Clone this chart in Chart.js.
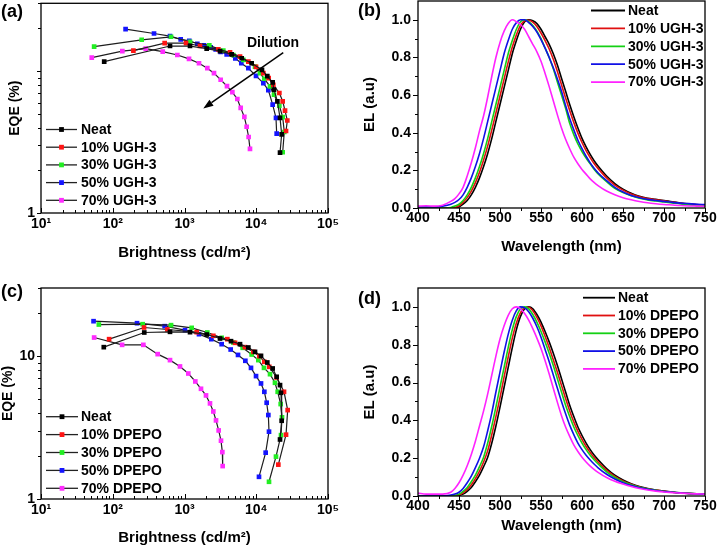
<!DOCTYPE html>
<html><head><meta charset="utf-8">
<script src="https://cdn.jsdelivr.net/npm/chart.js@4/dist/chart.umd.min.js"></script>
<style>
html,body{margin:0;padding:0;background:#fff;}
#wrap{position:relative;width:717px;height:549px;overflow:hidden;background:#fff;}
canvas{position:absolute;}
.lab{position:absolute;font:bold 18px 'Liberation Sans',Arial,sans-serif;color:#000;line-height:20px;}
</style></head><body>
<div id="wrap">
<canvas id="ca" width="358" height="270" style="left:0;top:0"></canvas>
<canvas id="cb" width="359" height="270" style="left:358px;top:0"></canvas>
<canvas id="cc" width="358" height="279" style="left:0;top:270px"></canvas>
<canvas id="cd" width="359" height="279" style="left:358px;top:270px"></canvas>
<div class="lab" style="left:1px;top:1px">(a)</div>
<div class="lab" style="left:358px;top:0px">(b)</div>
<div class="lab" style="left:1px;top:281px">(c)</div>
<div class="lab" style="left:358px;top:288px">(d)</div>
</div>
<script>
// ---------- DATA ----------
const seriesA = ['Neat', '10% UGH-3', '30% UGH-3', '50% UGH-3', '70% UGH-3'];
const seriesC = ['Neat', '10% DPEPO', '30% DPEPO', '50% DPEPO', '70% DPEPO'];
const xTickDecades = [1, 2, 3, 4, 5];

// Panel (a): brightness (cd/m2) and EQE (%)
const aNeatB = [76, 628, 1194, 2037, 3126, 4540, 6270, 8630, 12020, 14270, 16930, 17670, 19700, 21450, 22600, 21450];
const aNeatE = [11.65, 15.0, 15.0, 14.4, 13.8, 13.1, 12.3, 11.34, 10.2, 9.2, 8.31, 7.39, 6.12, 4.68, 3.58, 2.66];
const a10B = [194, 529, 1050, 1644, 2964, 4310, 5940, 7760, 9930, 12560, 14900, 17300, 21000, 23350, 25180, 27100, 26000];
const a10E = [13.91, 15.74, 15.74, 15.0, 14.2, 13.54, 12.63, 11.65, 10.7, 9.66, 8.91, 8.0, 7.0, 6.12, 5.26, 4.48, 3.78];
const a30B = [55, 253, 649, 1194, 2218, 3476, 4800, 6610, 9610, 11270, 12970, 15560, 17680, 20980, 23350, 24600, 23350];
const a30E = [14.84, 16.6, 17.43, 16.08, 15.17, 13.91, 12.97, 11.97, 10.75, 9.66, 8.82, 7.79, 6.81, 5.71, 4.73, 3.72, 2.68];
const a50B = [151, 376, 628, 885, 1167, 1510, 1870, 2317, 2720, 3193, 3870, 5110, 6190, 7760, 9930, 12560, 14740, 16930, 18840, 19260];
const a50E = [19.72, 18.39, 17.62, 16.7, 16.34, 15.57, 15.17, 14.68, 14.21, 13.62, 13.12, 12.29, 11.34, 10.47, 9.25, 8.22, 7.34, 5.8, 4.68, 3.62];
const a70B = [51, 136, 288, 497, 795, 1156, 1592, 2080, 2576, 3193, 3910, 4644, 5450, 6068, 6826, 7350, 7830, 8180];
const a70E = [12.43, 13.8, 14.4, 13.7, 12.97, 12.17, 11.34, 10.47, 9.66, 8.68, 7.83, 7.11, 6.35, 5.5, 4.75, 4.05, 3.43, 2.83];

// Panel (c)
const cNeatB = [75, 275, 628, 1194, 2037, 3126, 4450, 5940, 7760, 9610, 11650, 14260, 16930, 19260, 21450, 22130, 22600, 21450];
const cNeatE = [11.56, 14.64, 14.8, 14.72, 14.17, 13.29, 12.73, 12.13, 11.5, 10.72, 10.05, 9.03, 8.2, 7.17, 6.27, 5.54, 3.53, 2.61];
const c10B = [89, 273, 577, 1479, 2522, 3953, 5060, 6960, 9100, 11040, 12970, 15200, 19260, 24380, 27420, 26000, 20320];
const c10E = [13.15, 15.87, 15.37, 14.72, 13.88, 13.15, 12.4, 11.56, 10.72, 10.0, 9.13, 8.42, 7.09, 5.63, 4.19, 2.82, 1.74];
const c30B = [64, 261, 649, 1259, 2080, 3297, 4800, 6470, 8630, 10700, 12820, 15560, 18240, 19890, 21900, 22860, 22130, 18840, 15060];
const c30E = [16.65, 16.74, 16.48, 15.78, 14.64, 13.44, 12.46, 11.44, 10.27, 9.38, 8.28, 7.48, 6.51, 5.63, 4.62, 3.73, 2.8, 1.98, 1.32];
const c50B = [54, 218, 529, 1016, 1592, 2366, 3297, 4400, 5570, 7050, 8450, 9930, 11650, 12970, 13970, 14740, 15060, 13530, 10920];
const c50E = [17.57, 17.01, 16.21, 15.2, 14.25, 13.15, 12.13, 11.13, 10.2, 9.28, 8.28, 7.25, 6.44, 5.63, 4.72, 3.87, 2.96, 2.11, 1.43];
const c70B = [55, 135, 267, 423, 628, 865, 1130, 1415, 1698, 1994, 2266, 2522, 2749, 2994, 3226, 3369, 3404];
const c70E = [13.5, 12.0, 12.0, 10.33, 9.38, 8.47, 7.56, 6.65, 5.91, 5.31, 4.67, 4.1, 3.55, 3.02, 2.56, 2.13, 1.7];

// Spectra: wavelength (nm)
const wl = [400, 410, 420, 430, 440,
  445, 450, 455, 460, 465, 470, 475, 480, 485, 490,
  495, 500, 505, 510, 515, 520, 525, 530, 535, 540,
  545, 550, 555, 560, 565, 570, 575, 580, 585, 590,
  595, 600, 605, 610, 615, 620,
  630, 640, 650, 660, 670, 680, 690, 700, 710, 720, 730, 740, 750];

// Panel (b) EL
const bNeat = [0, 0, 0, 0, 0,
  0, 0.005, 0.02, 0.04, 0.07, 0.11, 0.16, 0.22, 0.29, 0.37,
  0.46, 0.55, 0.64, 0.73, 0.82, 0.89, 0.95, 0.99, 1.0, 0.995,
  0.98, 0.95, 0.91, 0.87, 0.82, 0.76, 0.69, 0.62, 0.55, 0.485,
  0.425, 0.37, 0.325, 0.285, 0.25, 0.22,
  0.17, 0.13, 0.1, 0.078, 0.062, 0.052, 0.046, 0.04, 0.033, 0.027, 0.022, 0.018, 0.015];
const b10 = [0, 0, 0, 0, 0,
  0.002, 0.012, 0.03, 0.055, 0.09, 0.135, 0.19, 0.255, 0.33, 0.415,
  0.505, 0.595, 0.685, 0.775, 0.855, 0.92, 0.97, 0.995, 0.998, 0.988,
  0.965, 0.93, 0.89, 0.845, 0.79, 0.725, 0.655, 0.585, 0.518, 0.455,
  0.398, 0.348, 0.305, 0.268, 0.235, 0.208,
  0.16, 0.122, 0.095, 0.074, 0.06, 0.05, 0.044, 0.038, 0.031, 0.026, 0.021, 0.017, 0.014];
const b30 = [0, 0, 0, 0, 0.003,
  0.01, 0.02, 0.04, 0.07, 0.11, 0.16, 0.22, 0.29, 0.37, 0.46,
  0.55, 0.64, 0.73, 0.82, 0.89, 0.95, 0.99, 1.0, 0.99, 0.97,
  0.94, 0.9, 0.85, 0.8, 0.74, 0.67, 0.6, 0.53, 0.45, 0.39,
  0.34, 0.3, 0.265, 0.235, 0.205, 0.18,
  0.14, 0.105, 0.082, 0.065, 0.052, 0.043, 0.037, 0.032, 0.027, 0.022, 0.018, 0.015, 0.012];
const b50 = [0.005, 0.005, 0.005, 0.01, 0.02,
  0.03, 0.045, 0.07, 0.11, 0.16, 0.22, 0.29, 0.37, 0.46, 0.55,
  0.64, 0.73, 0.82, 0.89, 0.95, 0.985, 1.0, 1.0, 0.985, 0.965,
  0.935, 0.895, 0.85, 0.8, 0.745, 0.685, 0.62, 0.545, 0.475, 0.415,
  0.36, 0.315, 0.275, 0.24, 0.21, 0.185,
  0.145, 0.11, 0.085, 0.067, 0.054, 0.046, 0.04, 0.035, 0.03, 0.026, 0.023, 0.02, 0.018];
const b70 = [0.01, 0.012, 0.01, 0.015, 0.035,
  0.05, 0.075, 0.11, 0.17, 0.24, 0.32, 0.41, 0.49, 0.59, 0.7,
  0.8, 0.88, 0.94, 0.98, 1.0, 0.99, 0.975, 0.95, 0.91, 0.87,
  0.83, 0.78, 0.715, 0.645, 0.57, 0.495, 0.425, 0.365, 0.315, 0.27,
  0.235, 0.205, 0.18, 0.155, 0.135, 0.118,
  0.09, 0.07, 0.055, 0.044, 0.035, 0.028, 0.023, 0.019, 0.016, 0.013, 0.011, 0.01, 0.009];

// Panel (d) EL
const dNeat = [0, 0, 0, 0, 0,
  0, 0.003, 0.01, 0.025, 0.045, 0.075, 0.11, 0.155, 0.205, 0.28,
  0.37, 0.47, 0.575, 0.68, 0.785, 0.88, 0.95, 0.99, 1.0, 0.99,
  0.96, 0.92, 0.87, 0.815, 0.755, 0.69, 0.62, 0.55, 0.48, 0.42,
  0.365, 0.32, 0.28, 0.245, 0.215, 0.19,
  0.145, 0.11, 0.085, 0.065, 0.05, 0.04, 0.032, 0.026, 0.021, 0.017, 0.014, 0.012, 0.01];
const d10 = [0, 0, 0, 0, 0,
  0.002, 0.006, 0.017, 0.035, 0.06, 0.092, 0.132, 0.18, 0.24, 0.325,
  0.42, 0.52, 0.63, 0.735, 0.835, 0.915, 0.97, 0.995, 0.998, 0.98,
  0.945, 0.9, 0.845, 0.785, 0.72, 0.655, 0.585, 0.515, 0.45, 0.392,
  0.342, 0.3, 0.262, 0.23, 0.202, 0.178,
  0.137, 0.104, 0.08, 0.062, 0.048, 0.038, 0.031, 0.025, 0.02, 0.016, 0.013, 0.011, 0.009];
const d30 = [0, 0, 0, 0, 0,
  0.003, 0.01, 0.025, 0.045, 0.075, 0.11, 0.155, 0.205, 0.28, 0.37,
  0.47, 0.575, 0.68, 0.785, 0.88, 0.95, 0.99, 1.0, 0.99, 0.96,
  0.92, 0.87, 0.815, 0.755, 0.69, 0.62, 0.55, 0.48, 0.42, 0.365,
  0.32, 0.28, 0.245, 0.215, 0.19, 0.168,
  0.128, 0.098, 0.076, 0.059, 0.046, 0.037, 0.03, 0.024, 0.02, 0.016, 0.013, 0.011, 0.009];
const d50 = [0, 0, 0, 0, 0.005,
  0.01, 0.02, 0.04, 0.07, 0.105, 0.15, 0.2, 0.26, 0.345, 0.44,
  0.55, 0.655, 0.76, 0.855, 0.93, 0.98, 1.0, 0.995, 0.975, 0.94,
  0.895, 0.84, 0.775, 0.71, 0.64, 0.57, 0.5, 0.435, 0.375, 0.325,
  0.28, 0.245, 0.215, 0.19, 0.168, 0.148,
  0.115, 0.09, 0.07, 0.055, 0.044, 0.036, 0.029, 0.024, 0.02, 0.016, 0.013, 0.011, 0.009];
const d70 = [0.015, 0.01, 0.01, 0.01, 0.02,
  0.04, 0.07, 0.11, 0.16, 0.22, 0.29, 0.37, 0.45, 0.54, 0.64,
  0.74, 0.83, 0.9, 0.955, 0.99, 1.0, 0.99, 0.965, 0.93, 0.885,
  0.835, 0.78, 0.715, 0.645, 0.57, 0.495, 0.425, 0.365, 0.315, 0.27,
  0.235, 0.205, 0.18, 0.158, 0.14, 0.124,
  0.098, 0.078, 0.063, 0.05, 0.04, 0.032, 0.026, 0.021, 0.018, 0.015, 0.013, 0.011, 0.01];

// ---------- STYLE ----------
const FONT = "'Liberation Sans', 'DejaVu Sans', Arial, sans-serif";
Chart.defaults.font.family = FONT;
Chart.defaults.font.weight = 'bold';
Chart.defaults.font.size = 14;
Chart.defaults.color = '#000';
const markerColors = ['#000000', '#ff1414', '#22ee22', '#1414ff', '#ff2cff'];
const lineColors = ['#000000', '#e01010', '#14d014', '#1010e6', '#ff22ff'];
const SUP = {1: '\u00b9', 2: '\u00b2', 3: '\u00b3', 4: '\u2074', 5: '\u2075'};

function logTicks(min, max) {
  const out = [];
  for (let e = Math.floor(Math.log10(min)); e <= Math.ceil(Math.log10(max)); e++) {
    for (let m = 1; m <= 9; m++) {
      const v = m * Math.pow(10, e);
      if (v >= min * 0.999 && v <= max * 1.001) out.push({value: v, mj: m === 1});
    }
  }
  return out;
}
function linTicks(min, max, step, every) {
  const out = [];
  for (let i = 0; ; i++) {
    const v = Math.round((min + i * step) * 1000) / 1000;
    if (v > max + 1e-9) break;
    out.push({value: v, mj: i % every === 0});
  }
  return out;
}

const framePlugin = {
  id: 'frame',
  afterDatasetsDraw(chart, args, o) {
    const {ctx, chartArea: a} = chart;
    const xs = chart.scales.x, ys = chart.scales.y;
    ctx.save();
    ctx.strokeStyle = '#000';
    ctx.lineWidth = 1;
    xs.ticks.forEach(t => {
      const p = Math.round(xs.getPixelForValue(t.value)) + 0.5;
      const len = t.mj ? o.xMaj : o.xMin;
      ctx.beginPath();
      ctx.moveTo(p, a.bottom);
      ctx.lineTo(p, a.bottom + (o.xIn ? -len : len));
      ctx.stroke();
    });
    ys.ticks.forEach(t => {
      const p = Math.round(ys.getPixelForValue(t.value)) + 0.5;
      const len = t.mj ? o.yMaj : o.yMin;
      ctx.beginPath();
      ctx.moveTo(a.left, p);
      ctx.lineTo(a.left + (o.yIn ? len : -len), p);
      ctx.stroke();
    });
    ctx.lineWidth = 1.3;
    ctx.strokeRect(a.left, a.top, a.right - a.left, a.bottom - a.top);
    ctx.restore();
  }
};

const legendPlugin = {
  id: 'lg',
  afterDraw(chart, args, o) {
    const ctx = chart.ctx;
    ctx.save();
    ctx.font = 'bold 14px ' + FONT;
    ctx.textBaseline = 'middle';
    ctx.textAlign = 'left';
    ctx.fillStyle = '#000';
    chart.data.datasets.forEach((ds, i) => {
      const y = o.y0 + i * o.dy;
      ctx.beginPath();
      ctx.moveTo(o.x1, y);
      ctx.lineTo(o.x2, y);
      ctx.strokeStyle = o.marker ? '#222' : ds.borderColor;
      ctx.lineWidth = o.marker ? 1.3 : 1.8;
      ctx.stroke();
      if (o.marker) {
        ctx.fillStyle = ds.pointBackgroundColor;
        const c = (o.x1 + o.x2) / 2;
        ctx.fillRect(c - 2.4, y - 2.4, 4.8, 4.8);
      }
      ctx.fillStyle = '#000';
      ctx.fillText(ds.label, o.tx, y + 0.5);
    });
    ctx.restore();
  }
};

const arrowPlugin = {
  id: 'arrow',
  afterDatasetsDraw(chart, args, o) {
    if (!o || !o.show) return;
    const xs = chart.scales.x, ys = chart.scales.y, ctx = chart.ctx;
    const x1 = xs.getPixelForValue(o.fromX), y1 = ys.getPixelForValue(o.fromY);
    const x2 = xs.getPixelForValue(o.toX), y2 = ys.getPixelForValue(o.toY);
    const ang = Math.atan2(y2 - y1, x2 - x1);
    const hl = 10, hw = 3.6;
    const bx = x2 - hl * Math.cos(ang), by = y2 - hl * Math.sin(ang);
    ctx.save();
    ctx.strokeStyle = '#000';
    ctx.fillStyle = '#000';
    ctx.lineWidth = 1.5;
    ctx.beginPath();
    ctx.moveTo(x1, y1);
    ctx.lineTo(bx, by);
    ctx.stroke();
    ctx.beginPath();
    ctx.moveTo(x2, y2);
    ctx.lineTo(bx - hw * Math.sin(ang), by + hw * Math.cos(ang));
    ctx.lineTo(bx + hw * Math.sin(ang), by - hw * Math.cos(ang));
    ctx.closePath();
    ctx.fill();
    ctx.font = 'bold 14px ' + FONT;
    ctx.textAlign = 'center';
    ctx.textBaseline = 'middle';
    ctx.fillText(o.text, xs.getPixelForValue(o.textX), ys.getPixelForValue(o.textY));
    ctx.restore();
  }
};

function eqeChart(id, names, pairs, cfg) {
  const datasets = pairs.map((p, i) => ({
    label: names[i],
    data: p[0].map((b, k) => ({x: b, y: p[1][k]})),
    showLine: true,
    borderColor: '#1e1e1e',
    borderWidth: 1.2,
    pointStyle: 'rect',
    pointRadius: 3.3,
    pointHoverRadius: 3.3,
    pointBorderWidth: 0,
    pointBackgroundColor: markerColors[i],
    fill: false
  }));
  return new Chart(document.getElementById(id), {
    type: 'scatter',
    data: {datasets},
    plugins: [framePlugin, legendPlugin, arrowPlugin],
    options: {
      responsive: false, animation: false, devicePixelRatio: 1,
      layout: {padding: {top: cfg.top, right: 30, left: 0, bottom: 0}},
      plugins: {
        legend: {display: false}, tooltip: {enabled: false},
        frame: {xIn: true, xMaj: 5, xMin: 3, yIn: false, yMaj: 4, yMin: 3},
        lg: cfg.legend,
        arrow: cfg.arrow || {show: false}
      },
      scales: {
        x: {
          type: 'logarithmic', min: 10, max: 100000,
          afterBuildTicks: s => { s.ticks = logTicks(10, 100000); },
          ticks: {autoSkip: false, maxRotation: 0, minRotation: 0, padding: 3, font: {size: 14, weight: 'bold'},
            callback: (v, i, t) => t[i].mj ? '10' + SUP[xTickDecades[Math.round(Math.log10(v)) - 1]] : ''},
          grid: {display: false, drawTicks: false},
          border: {display: false},
          title: {display: true, text: 'Brightness (cd/m\u00b2)', font: {size: 15, weight: 'bold'}, padding: {top: 0, bottom: cfg.xtPad}},
          afterFit: s => { s.height = cfg.xH; s.paddingLeft = 0; s.paddingRight = 0; }
        },
        y: {
          type: 'logarithmic', min: 1, max: 30,
          afterBuildTicks: s => { s.ticks = logTicks(1, 30); },
          ticks: {autoSkip: false, padding: 6, font: {size: 14, weight: 'bold'},
            callback: (v) => cfg.yLabels.indexOf(v) >= 0 ? String(v) : ''},
          grid: {display: false, drawTicks: false},
          border: {display: false},
          title: {display: true, text: 'EQE (%)', font: {size: 14, weight: 'bold'}, padding: {top: cfg.ytPad, bottom: 0}},
          afterFit: s => { s.width = 41; s.paddingTop = 0; s.paddingBottom = 0; }
        }
      }
    }
  });
}

function elChart(id, names, series, cfg) {
  const datasets = series.map((arr, i) => ({
    label: names[i],
    data: wl.map((w, k) => ({x: w, y: arr[k]})),
    borderColor: lineColors[i],
    borderWidth: 1.6,
    pointRadius: 0,
    cubicInterpolationMode: 'monotone',
    fill: false,
    order: 4 - i
  }));
  return new Chart(document.getElementById(id), {
    type: 'line',
    data: {datasets},
    plugins: [framePlugin, legendPlugin],
    options: {
      responsive: false, animation: false, devicePixelRatio: 1,
      layout: {padding: {top: cfg.top, right: 12, left: 0, bottom: 0}},
      plugins: {
        legend: {display: false}, tooltip: {enabled: false},
        frame: {xIn: false, xMaj: 5, xMin: 3, yIn: false, yMaj: 5, yMin: 3},
        lg: cfg.legend
      },
      scales: {
        x: {
          type: 'linear', min: 400, max: 750,
          afterBuildTicks: s => { s.ticks = linTicks(400, 750, 25, 2); },
          ticks: {autoSkip: false, maxRotation: 0, minRotation: 0, padding: 2, font: {size: 14, weight: 'bold'},
            callback: (v, i, t) => t[i].mj ? String(v) : ''},
          grid: {display: false, drawTicks: false},
          border: {display: false},
          title: {display: true, text: 'Wavelength (nm)', font: {size: 15, weight: 'bold'}, padding: {top: 0, bottom: 14}},
          afterFit: s => { s.height = cfg.xH; s.paddingLeft = 0; s.paddingRight = 0; }
        },
        y: {
          type: 'linear', min: 0, max: 1.1,
          afterBuildTicks: s => { s.ticks = linTicks(0, 1.0, 0.1, 2); },
          ticks: {autoSkip: false, padding: 7, font: {size: 14, weight: 'bold'},
            callback: (v, i, t) => t[i].mj ? v.toFixed(1) : ''},
          grid: {display: false, drawTicks: false},
          border: {display: false},
          title: {display: true, text: 'EL (a.u)', font: {size: 15, weight: 'bold'}, padding: {top: 3, bottom: 0}},
          afterFit: s => { s.width = 60; s.paddingTop = 0; s.paddingBottom = 0; }
        }
      }
    }
  });
}

eqeChart('ca', seriesA,
  [[aNeatB, aNeatE], [a10B, a10E], [a30B, a30E], [a50B, a50E], [a70B, a70E]],
  {top: 1, xH: 57, xtPad: 8, ytPad: 6.5, yLabels: [1],
   legend: {x1: 46, x2: 77, tx: 81, y0: 129.5, dy: 17.7, marker: true},
   arrow: {show: true, fromX: 23800, fromY: 13.5, toX: 1828, toY: 5.45, text: 'Dilution', textX: 17100, textY: 15.8}});

eqeChart('cc', seriesC,
  [[cNeatB, cNeatE], [c10B, c10E], [c30B, c30E], [c50B, c50E], [c70B, c70E]],
  {top: 18, xH: 50, xtPad: 2, ytPad: 0, yLabels: [1, 10],
   legend: {x1: 46, x2: 78, tx: 81, y0: 146.7, dy: 17.9, marker: true}});

elChart('cb', seriesA, [bNeat, b10, b30, b50, b70],
  {top: 1, xH: 62, legend: {x1: 233, x2: 267, tx: 270, y0: 10.5, dy: 17.9, marker: false}});

elChart('cd', seriesC, [dNeat, d10, d30, d50, d70],
  {top: 18, xH: 53, legend: {x1: 225, x2: 257, tx: 260, y0: 27.7, dy: 17.8, marker: false}});
</script>
</body></html>
